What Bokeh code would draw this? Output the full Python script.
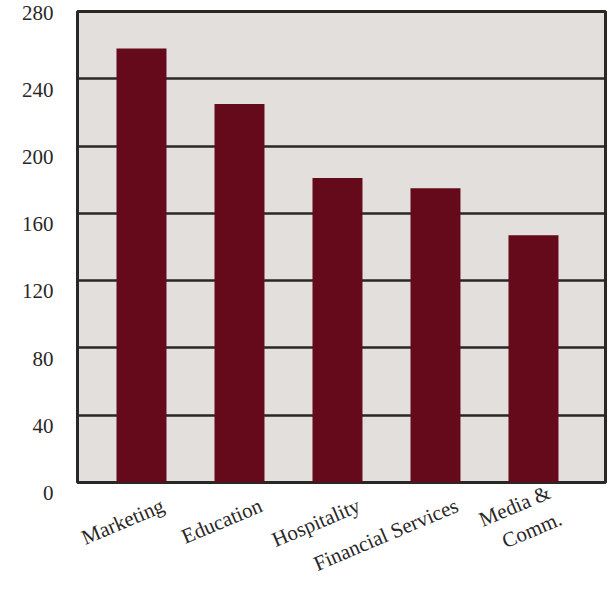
from bokeh.plotting import figure
from bokeh.models import Range1d, FixedTicker
from bokeh.embed import file_html
from bokeh.resources import INLINE

categories = ["Marketing", "Education", "Hospitality", "Financial Services", "Media &\nComm."]
values = [258, 225, 181, 175, 147]
y_ticks = [0, 40, 80, 120, 160, 200, 240, 280]

xpos = list(range(len(categories)))
label_shift = 0.22
x_start, x_end = -0.653, 4.735

p = figure(width=612, height=590, output_backend="svg", toolbar_location=None,
           x_range=Range1d(x_start, x_end), y_range=Range1d(0, 280),
           min_border_left=77, min_border_right=7, min_border_top=11, min_border_bottom=108)

p.background_fill_color = "#e2dfdd"
p.border_fill_color = "white"
p.outline_line_color = "#2a2727"
p.outline_line_width = 3

p.vbar(x=xpos, top=values, width=0.51, color="#650a1a", line_color=None)

p.xgrid.grid_line_color = None
p.ygrid.grid_line_color = "#2a2727"
p.ygrid.grid_line_width = 2.5
p.ygrid.ticker = FixedTicker(ticks=y_ticks)

# y axis labels sit a little below their grid lines (leading blank line);
# the top one stays single-line so it is not pushed down at the canvas edge
p.yaxis.ticker = FixedTicker(ticks=y_ticks)
overrides = {t: "\n" + str(t) for t in y_ticks}
overrides[y_ticks[-1]] = str(y_ticks[-1])
p.yaxis.major_label_overrides = overrides
p.yaxis.axis_line_color = None
p.yaxis.major_tick_line_color = None
p.yaxis.minor_tick_line_color = None
p.yaxis.major_tick_out = 0
p.yaxis.major_tick_in = 0
p.yaxis.major_label_standoff = 24
p.yaxis.major_label_text_font = "Liberation Serif"
p.yaxis.major_label_text_font_size = "21px"
p.yaxis.major_label_text_line_height = 0.9
p.yaxis.major_label_text_color = "#2a2727"

xt = [x + label_shift for x in xpos]
p.xaxis.ticker = FixedTicker(ticks=xt)
p.xaxis.major_label_overrides = {t: c for t, c in zip(xt, categories)}
p.xaxis.axis_line_color = None
p.xaxis.major_tick_line_color = None
p.xaxis.minor_tick_line_color = None
p.xaxis.major_tick_out = 0
p.xaxis.major_tick_in = 0
p.xaxis.major_label_orientation = 0.4
p.xaxis.major_label_standoff = 22
p.xaxis.major_label_text_font = "Liberation Serif"
p.xaxis.major_label_text_font_size = "21px"
p.xaxis.major_label_text_color = "#2a2727"

open("out.html", "w").write(file_html(p, INLINE))
